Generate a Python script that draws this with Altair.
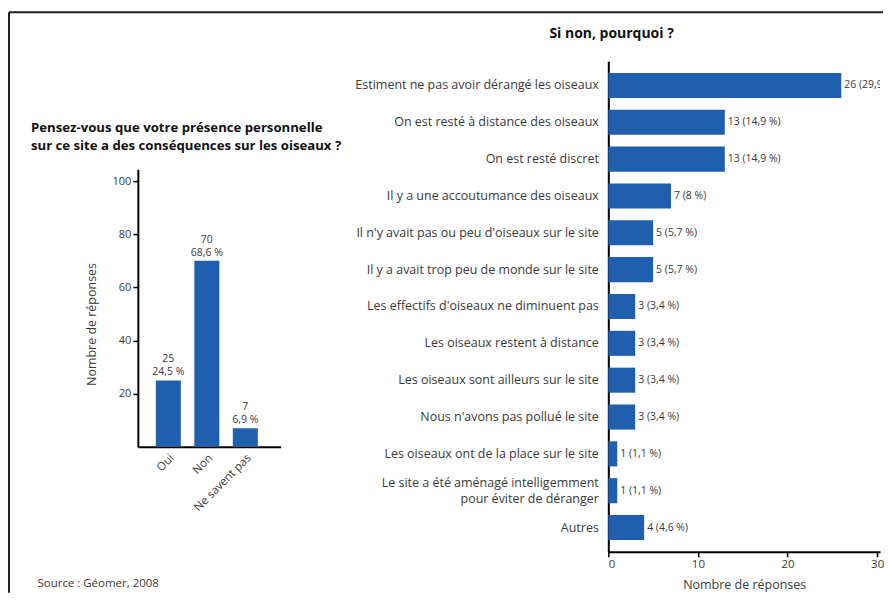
import altair as alt
import pandas as pd

# ---------------- data ----------------
left_cats = ["Oui", "Non", "Ne savent pas"]
left_counts = [25, 70, 7]
left_pcts = [24.5, 68.6, 6.9]

right_cats = [
    "Estiment ne pas avoir dérangé les oiseaux",
    "On est resté à distance des oiseaux",
    "On est resté discret",
    "Il y a une accoutumance des oiseaux",
    "Il n'y avait pas ou peu d'oiseaux sur le site",
    "Il y a avait trop peu de monde sur le site ",
    "Les effectifs d'oiseaux ne diminuent pas",
    "Les oiseaux restent à distance",
    "Les oiseaux sont ailleurs sur le site",
    "Nous n'avons pas pollué le site",
    "Les oiseaux ont de la place sur le site",
    "Le site a été aménagé intelligemment|pour éviter de déranger",
    "Autres",
]
right_counts = [26, 13, 13, 7, 5, 5, 3, 3, 3, 3, 1, 1, 4]
right_pcts = [29.9, 14.9, 14.9, 8, 5.7, 5.7, 3.4, 3.4, 3.4, 3.4, 1.1, 1.1, 4.6]

left_title = ["Pensez-vous que votre présence personnelle",
              "sur ce site a des conséquences sur les oiseaux ?"]
right_title = "Si non, pourquoi ?"
axis_title = "Nombre de réponses"
source = "Source : Géomer, 2008"


def fr(p):
    s = f"{p:.1f}"
    if s.endswith(".0"):
        s = s[:-2]
    return s.replace(".", ",")


FONT = "Open Sans"
BAR = "#1f5fad"
TXT = "#3a3a3a"

left_df = pd.DataFrame({
    "cat": left_cats,
    "n": left_counts,
    "lbl": [f"{n}\n{fr(p)} %" for n, p in zip(left_counts, left_pcts)],
})
right_df = pd.DataFrame({
    "cat": right_cats,
    "n": right_counts,
    "lbl": [f"{n} ({fr(p)} %)" for n, p in zip(right_counts, right_pcts)],
})
one = pd.DataFrame({"a": [0]})

# ---------------- left chart ----------------
lx = alt.X("cat:N", sort=left_cats,
           scale=alt.Scale(paddingInner=0.35, paddingOuter=0.53, align=0.44),
           axis=alt.Axis(labelAngle=-45, ticks=False, domainColor="black", domainWidth=2,
                         labelFontSize=11.5, labelColor=TXT, labelPadding=5,
                         title=source, titleX=-101, titleY=137, titleAlign="left",
                         titleBaseline="middle", titleAngle=0, titleFontWeight="normal",
                         titleFontSize=11.5, titleColor=TXT))
ly = alt.Y("n:Q",
           scale=alt.Scale(domain=[0, 104.5], range=[386, 108], nice=False),
           axis=alt.Axis(values=[20, 40, 60, 80, 100], grid=False, tickSize=5,
                         tickColor="black", tickWidth=1.5,
                         domainColor="black", domainWidth=2, labelFontSize=11,
                         labelColor=TXT, labelPadding=2,
                         title=axis_title, titleX=-39, titleY=263, titleFontSize=12.5,
                         titleFontWeight="normal", titleColor=TXT))

lbars = alt.Chart(left_df).mark_bar(color=BAR).encode(x=lx, y=ly)
ltext = alt.Chart(left_df).mark_text(baseline="bottom", dy=-16, fontSize=10.5,
                                     color=TXT, lineBreak="\n", lineHeight=13).encode(
    x=alt.X("cat:N", sort=left_cats), y="n:Q", text="lbl:N")

frame_v = alt.Chart(one).mark_rule(color="#222", strokeWidth=2).encode(
    x=alt.value(-129), y=alt.value(-49), y2=alt.value(532))
frame_h = alt.Chart(one).mark_rule(color="#222", strokeWidth=2).encode(
    x=alt.value(-129), x2=alt.value(746), y=alt.value(-49))

left = alt.layer(frame_v, frame_h, lbars, ltext).properties(
    width=143, height=386,
    title=alt.Title(left_title, anchor="start", frame="group", dx=-107, offset=-142,
                    baseline="top", fontSize=13.2, fontWeight="bold", color="#111",
                    lineHeight=18))

# ---------------- right chart ----------------
ry = alt.Y("cat:N", sort=right_cats,
           scale=alt.Scale(paddingInner=0.32, paddingOuter=0.315),
           axis=alt.Axis(title=None, ticks=False, labelPadding=10,
                         labelExpr="split(datum.label, '|')", labelLimit=400,
                         labelOffset=alt.condition("indexof(datum.value, '|') >= 0",
                                                   alt.value(-8), alt.value(0)),
                         domainColor="black", domainWidth=2, labelFontSize=12.5,
                         labelColor=TXT, labelLineHeight=16))
rx = alt.X("n:Q", scale=alt.Scale(domain=[0, 30.32], nice=False),
           axis=alt.Axis(values=[0, 10, 20, 30], grid=False, tickSize=5,
                         tickColor="black", tickWidth=1.5,
                         domainColor="black", domainWidth=2, labelFontSize=11.5,
                         labelColor=TXT, labelPadding=2,
                         title=axis_title, titleFontSize=12.5, titleFontWeight="normal",
                         titleColor=TXT, titlePadding=8))

rbars = alt.Chart(right_df).mark_bar(color=BAR).encode(x=rx, y=ry)
rtext = alt.Chart(right_df).mark_text(align="left", dx=3, fontSize=10.5, color=TXT,
                                      clip=True).encode(
    x="n:Q", y=alt.Y("cat:N", sort=right_cats), text="lbl:N")

right = alt.layer(rbars, rtext).properties(
    width=272, height=491,
    title=alt.Title(right_title, anchor="start", frame="group", dx=-59, offset=20,
                    fontSize=14, fontWeight="bold", color="#111"))

chart = alt.hconcat(left, right, spacing=328, bounds="flush").properties(
    padding={"left": 0, "top": 3, "right": 0, "bottom": 0}
).configure(font=FONT).configure_view(stroke=None)

chart.save("out.html", embed_options={"renderer": "svg", "actions": False})
